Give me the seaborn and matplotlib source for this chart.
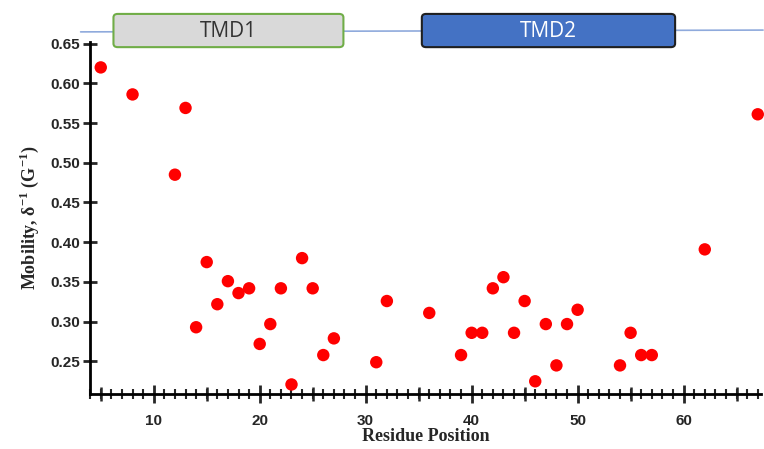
import pandas as pd
import matplotlib.pyplot as plt
import seaborn as sns
from matplotlib.patches import FancyBboxPatch
from matplotlib.ticker import MultipleLocator
import matplotlib.transforms as mtransforms

# --- Data ---
residue = [5, 8, 12, 13, 14, 15, 16, 17, 18, 19, 20, 21, 22, 23, 24, 25, 26, 27,
           31, 32, 36, 39, 40, 41, 42, 43, 44, 45, 46, 47, 48, 49, 50,
           54, 55, 56, 57, 62, 67]
mobility = [0.620, 0.586, 0.485, 0.569, 0.293, 0.375, 0.322, 0.351, 0.336, 0.342,
            0.272, 0.297, 0.342, 0.221, 0.380, 0.342, 0.258, 0.279,
            0.249, 0.326, 0.311, 0.258, 0.286, 0.286, 0.342, 0.356, 0.286, 0.326,
            0.225, 0.297, 0.245, 0.297, 0.315,
            0.245, 0.286, 0.258, 0.258, 0.391, 0.561]

domain_names = ["TMD1", "TMD2"]
domain_start = [6.2, 35.3]
domain_end = [27.9, 59.2]

df = pd.DataFrame({"Residue": residue, "Mobility": mobility})

sns.set_style("ticks")
plt.rcParams['font.family'] = ['Liberation Sans', 'DejaVu Sans']

fig = plt.figure(figsize=(7.64, 4.49), dpi=100)
ax = fig.add_axes([0.118, 0.1225, 0.878, 0.784])

sns.scatterplot(data=df, x="Residue", y="Mobility", ax=ax, color="red",
                s=80, edgecolor="none", clip_on=False, zorder=3)

ax.set_xlim(4, 67.3)
ax.set_ylim(0.209, 0.652)

# axis styling
sns.despine(ax=ax)
for side in ["left", "bottom"]:
    ax.spines[side].set_linewidth(2)
    ax.spines[side].set_color("black")

ax.xaxis.set_major_locator(MultipleLocator(10))
ax.xaxis.set_minor_locator(MultipleLocator(1))
ax.tick_params(axis="y", direction="inout", length=10, width=2, labelsize=11, pad=2)
ax.tick_params(axis="x", which="major", direction="inout", length=13, width=2,
               labelsize=11, pad=8)
ax.tick_params(axis="x", which="minor", direction="inout", length=7, width=1.5)
ax.set_yticks([0.25, 0.30, 0.35, 0.40, 0.45, 0.50, 0.55, 0.60, 0.65])
ax.set_yticklabels([f"{v:.2f}" for v in ax.get_yticks()])
for lab in ax.get_xticklabels() + ax.get_yticklabels():
    lab.set_fontweight("bold")

# medium ticks at every 5 residues
sec = ax.secondary_xaxis("bottom")
sec.set_xticks([5, 15, 25, 35, 45, 55, 65])
sec.tick_params(direction="inout", length=10, width=1.8, labelbottom=False)
sec.spines["bottom"].set_visible(False)

ax.set_xlabel("Residue Position", fontsize=13, fontweight="bold",
              family=["Liberation Serif", "DejaVu Serif"], labelpad=0)
ax.set_ylabel("Mobility, δ$^{\\mathregular{-1}}$ (G$^{\\mathregular{-1}}$)", fontsize=13,
              fontweight="bold", family=["Liberation Serif", "DejaVu Serif"], labelpad=7)

# domain boxes above the axes
trans = mtransforms.blended_transform_factory(ax.transData, fig.transFigure)
ax.plot([3.1, 67.5], [0.929, 0.933], transform=trans, color="#8FAADC",
        lw=1.2, clip_on=False, zorder=1)
styles = [("#D9D9D9", "#70AD47", "#333333"), ("#4472C4", "#1F1F1F", "white")]
for name, x0, x1, (fc, ec, tc) in zip(domain_names, domain_start, domain_end, styles):
    box = FancyBboxPatch((x0, 0.895), x1 - x0, 0.074,
                         boxstyle="round,pad=0,rounding_size=0.4",
                         transform=trans, facecolor=fc, edgecolor=ec, lw=1.5,
                         clip_on=False, zorder=2, mutation_aspect=0.02)
    fig.add_artist(box)
    fig.text((x0 + x1) / 2, 0.930, name, transform=trans, ha="center", va="center",
             fontsize=15, color=tc, family=["Open Sans", "DejaVu Sans"], zorder=5)

fig.savefig("out.png", dpi=100)
